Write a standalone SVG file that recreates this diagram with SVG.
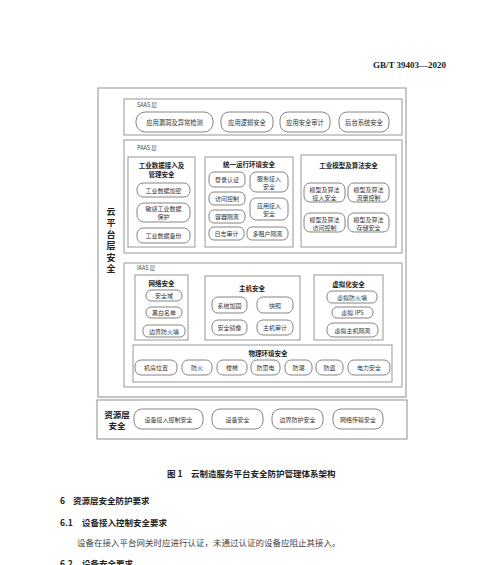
<svg xmlns="http://www.w3.org/2000/svg" width="500" height="565" viewBox="0 0 500 565">
<style>
.frame{fill:none;stroke:#8c8c8c;stroke-width:1}
.box{fill:#fff;stroke:#8c8c8c;stroke-width:0.9}
.pill{fill:#fff;stroke:#777;stroke-width:0.9}
text{font-family:"Noto Sans CJK SC","Noto Sans",sans-serif;fill:#333;dominant-baseline:central}
.t{font-size:6px;text-anchor:middle}
.ts{font-size:6.3px;text-anchor:middle}
.h{font-size:6.5px;font-weight:bold;text-anchor:middle;fill:#222}
.lay{font-size:5.5px;fill:#444}
.side{font-size:9px;font-weight:bold;text-anchor:middle;fill:#222}
.res{font-size:8.5px;font-weight:bold;text-anchor:middle;fill:#222}
.cap{font-size:8.5px;font-weight:bold;fill:#222}
.body{font-size:8.5px;fill:#444}
</style>
<rect x="0" y="0" width="500" height="565" fill="#fff"/>
<text x="373" y="65" style="font-family:'Liberation Serif',serif;font-size:9px;font-weight:bold;fill:#222">GB/T 39403—2020</text>

<g id="cloud-platform">
<rect class="frame" x="98" y="88" width="308" height="309"/>
<text class="side" x="111" y="211">云</text>
<text class="side" x="111" y="222.5">平</text>
<text class="side" x="111" y="234">台</text>
<text class="side" x="111" y="245.5">层</text>
<text class="side" x="111" y="257">安</text>
<text class="side" x="111" y="268.5">全</text>
</g>

<g id="saas">
<rect class="box" x="124" y="99" width="278" height="36"/>
<text class="lay" x="137" y="105">SAAS 层</text>
<rect class="pill" x="136" y="112" width="77" height="20" rx="9"/><text class="ts" x="174.5" y="122">应用漏洞及异常检测</text>
<rect class="pill" x="221" y="112" width="52" height="20" rx="8"/><text class="ts" x="247" y="122">应用逻辑安全</text>
<rect class="pill" x="280" y="112" width="50" height="20" rx="8"/><text class="ts" x="305" y="122">应用安全审计</text>
<rect class="pill" x="339" y="112" width="50" height="20" rx="8"/><text class="ts" x="364" y="122">后台系统安全</text>
</g>

<g id="paas">
<rect class="box" x="124" y="140" width="278" height="113"/>
<text class="lay" x="137" y="148">PAAS 层</text>
</g>

<g id="industrial-data">
<rect class="box" x="128" y="157" width="67" height="90"/>
<text class="h" x="161.5" y="165">工业数据接入及</text>
<text class="h" x="161.5" y="174">管理安全</text>
<rect class="pill" x="137" y="183" width="53" height="14" rx="6"/><text class="t" x="163.5" y="190">工业数据加密</text>
<rect class="pill" x="137" y="203" width="53" height="19" rx="7"/><text class="t" x="163.5" y="208.5">敏感工业数据</text><text class="t" x="163.5" y="216.5">保护</text>
<rect class="pill" x="137" y="228" width="53" height="15" rx="6"/><text class="t" x="163.5" y="235.5">工业数据备份</text>
</g>

<g id="runtime-env">
<rect class="box" x="205" y="157" width="88" height="90"/>
<text class="h" x="249" y="164">统一运行环境安全</text>
<rect class="pill" x="209" y="172" width="36" height="15" rx="5"/><text class="t" x="227" y="179.5">登录认证</text>
<rect class="pill" x="250" y="172" width="38" height="20" rx="6"/><text class="t" x="269" y="178">服务接入</text><text class="t" x="269" y="186">安全</text>
<rect class="pill" x="209" y="192" width="36" height="13" rx="5"/><text class="t" x="227" y="198.5">访问控制</text>
<rect class="pill" x="250" y="198" width="38" height="22" rx="6"/><text class="t" x="269" y="205">应用接入</text><text class="t" x="269" y="213">安全</text>
<rect class="pill" x="209" y="210" width="36" height="13" rx="5"/><text class="t" x="227" y="216.5">容器隔离</text>
<rect class="pill" x="209" y="227" width="35" height="13" rx="5"/><text class="t" x="226.5" y="233.5">日志审计</text>
<rect class="pill" x="247" y="227" width="41" height="13" rx="5"/><text class="t" x="267.5" y="233.5">多租户隔离</text>
</g>

<g id="model-algo">
<rect class="box" x="301" y="155" width="95" height="92"/>
<text class="h" x="348.5" y="165">工业模型及算法安全</text>
<rect class="pill" x="304" y="183" width="41" height="19" rx="6"/><text class="t" x="324.5" y="189">模型及算法</text><text class="t" x="324.5" y="197">接入安全</text>
<rect class="pill" x="348" y="183" width="41" height="19" rx="6"/><text class="t" x="368.5" y="189">模型及算法</text><text class="t" x="368.5" y="197">流量控制</text>
<rect class="pill" x="304" y="213" width="41" height="19" rx="6"/><text class="t" x="324.5" y="219">模型及算法</text><text class="t" x="324.5" y="227">访问控制</text>
<rect class="pill" x="348" y="213" width="41" height="19" rx="6"/><text class="t" x="368.5" y="219">模型及算法</text><text class="t" x="368.5" y="227">存储安全</text>
</g>

<g id="iaas">
<rect class="box" x="124" y="263" width="278" height="124"/>
<text class="lay" x="137" y="268">IAAS 层</text>
</g>

<g id="network">
<rect class="box" x="135" y="275" width="53" height="65"/>
<text class="h" x="161.5" y="283">网络安全</text>
<rect class="pill" x="146" y="290" width="36" height="11" rx="5"/><text class="t" x="164" y="295.5">安全域</text>
<rect class="pill" x="146" y="307" width="36" height="11" rx="5"/><text class="t" x="164" y="312.5">黑白名单</text>
<rect class="pill" x="143" y="325" width="42" height="12" rx="5"/><text class="t" x="164" y="331">边界防火墙</text>
</g>

<g id="host">
<rect class="box" x="205" y="276" width="95" height="64"/>
<text class="h" x="252" y="288">主机安全</text>
<rect class="pill" x="212" y="297" width="35" height="16" rx="6"/><text class="t" x="229.5" y="305">系统加固</text>
<rect class="pill" x="257" y="297" width="36" height="16" rx="6"/><text class="t" x="275" y="305">快照</text>
<rect class="pill" x="212" y="320" width="35" height="15" rx="6"/><text class="t" x="229.5" y="327.5">安全镜像</text>
<rect class="pill" x="257" y="320" width="36" height="15" rx="6"/><text class="t" x="275" y="327.5">主机审计</text>
</g>

<g id="virtualization">
<rect class="box" x="314" y="275" width="69" height="65"/>
<text class="h" x="348.5" y="284">虚拟化安全</text>
<rect class="pill" x="327" y="291" width="50" height="12" rx="5"/><text class="t" x="352" y="297">虚拟防火墙</text>
<rect class="pill" x="332" y="307" width="41" height="11" rx="5"/><text class="t" x="352.5" y="312.5">虚拟 IPS</text>
<rect class="pill" x="327" y="323" width="51" height="14" rx="6"/><text class="t" x="352.5" y="330">虚拟主机隔离</text>
</g>

<g id="physical">
<rect class="box" x="133" y="345" width="259" height="37"/>
<text class="h" x="268" y="353">物理环境安全</text>
<rect class="pill" x="135" y="360" width="42" height="15" rx="6"/><text class="t" x="156" y="367.5">机房位置</text>
<rect class="pill" x="182" y="360" width="30" height="15" rx="6"/><text class="t" x="197" y="367.5">防火</text>
<rect class="pill" x="217" y="360" width="30" height="15" rx="6"/><text class="t" x="232" y="367.5">楼梯</text>
<rect class="pill" x="251" y="360" width="29" height="15" rx="6"/><text class="t" x="265.5" y="367.5">防雷电</text>
<rect class="pill" x="285" y="360" width="27" height="15" rx="6"/><text class="t" x="298.5" y="367.5">防潮</text>
<rect class="pill" x="316" y="360" width="27" height="15" rx="6"/><text class="t" x="329.5" y="367.5">防盗</text>
<rect class="pill" x="348" y="360" width="42" height="15" rx="6"/><text class="t" x="369" y="367.5">电力安全</text>
</g>

<g id="resource-layer">
<rect class="frame" x="97" y="400" width="310" height="39"/>
<text class="res" x="117" y="413.5">资源层</text>
<text class="res" x="117" y="425">安全</text>
<rect class="pill" x="134" y="409" width="69" height="20" rx="8"/><text class="t" x="168.5" y="419">设备接入控制安全</text>
<rect class="pill" x="212" y="409" width="51" height="20" rx="8"/><text class="t" x="237.5" y="419">设备安全</text>
<rect class="pill" x="272" y="409" width="51" height="20" rx="8"/><text class="t" x="297.5" y="419">边界防护安全</text>
<rect class="pill" x="333" y="409" width="50" height="20" rx="8"/><text class="t" x="358" y="419">网络传输安全</text>
</g>

<g id="text-below">
<text class="cap" x="167" y="473">图 1　云制造服务平台安全防护管理体系架构</text>
<text class="cap" x="60" y="500">6</text><text class="cap" x="73" y="500">资源层安全防护要求</text>
<text class="cap" x="60" y="522">6.1</text><text class="cap" x="82" y="522">设备接入控制安全要求</text>
<text class="body" x="77" y="542">设备在接入平台网关时应进行认证，未通过认证的设备应阻止其接入。</text>
<text class="cap" x="60" y="563">6.2</text><text class="cap" x="82" y="563">设备安全要求</text>
</g>
</svg>
